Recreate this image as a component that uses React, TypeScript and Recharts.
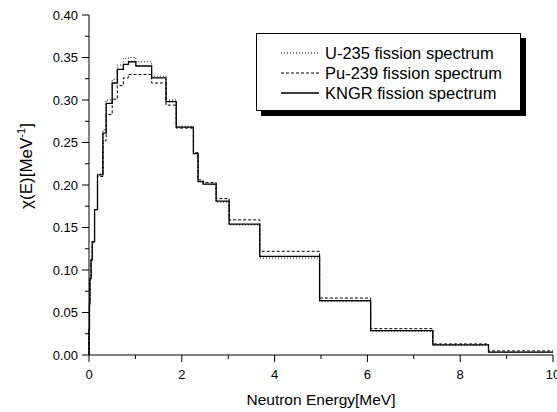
import { LineChart, Line, XAxis, YAxis, Legend } from 'recharts'

// Group boundaries (MeV) and group-wise spectrum values
const EDGES = [
  0, 0.01, 0.02, 0.045, 0.07, 0.12, 0.183, 0.3, 0.37, 0.5, 0.61, 0.74, 0.85, 1.01,
  1.35, 1.66, 1.88, 2.25, 2.35, 2.46, 2.74, 3.02, 3.68, 4.97, 6.07, 7.41, 8.61, 10,
]
const U235 = [
  0.03, 0.06, 0.09, 0.112, 0.133, 0.171, 0.213, 0.265, 0.3, 0.324, 0.341, 0.349, 0.35,
  0.345, 0.328, 0.3, 0.269, 0.237, 0.204, 0.201, 0.18, 0.153, 0.114, 0.063, 0.028,
  0.0115, 0.003,
]
const PU239 = [
  0.03, 0.06, 0.09, 0.112, 0.133, 0.171, 0.21, 0.252, 0.283, 0.301, 0.317, 0.326, 0.33,
  0.33, 0.32, 0.294, 0.267, 0.238, 0.206, 0.203, 0.184, 0.159, 0.122, 0.067, 0.031,
  0.013, 0.0048,
]
const KNGR = [
  0.03, 0.06, 0.09, 0.112, 0.133, 0.171, 0.212, 0.261, 0.296, 0.32, 0.336, 0.342, 0.345,
  0.34, 0.326, 0.298, 0.268, 0.237, 0.204, 0.201, 0.181, 0.154, 0.116, 0.064, 0.0286,
  0.0118, 0.0035,
]

const X_MAJOR = [0, 2, 4, 6, 8, 10]
const X_MINOR = [1, 3, 5, 7, 9]
const Y_MAJOR = [0, 0.05, 0.1, 0.15, 0.2, 0.25, 0.3, 0.35, 0.4]
const Y_MINOR = [0.025, 0.075, 0.125, 0.175, 0.225, 0.275, 0.325, 0.375]

const FONT = '"Liberation Sans", Arial, sans-serif'

const SERIES = [
  { key: 'u235', name: 'U-235 fission spectrum', dash: '1 2', width: 1 },
  { key: 'pu239', name: 'Pu-239 fission spectrum', dash: '3 2', width: 1 },
  { key: 'kngr', name: 'KNGR fission spectrum', dash: undefined, width: 1.3 },
]

// step data: one point per group edge, last edge repeats the last value
const last = KNGR.length - 1
const data = [
  { e: 0, u235: 0, pu239: 0, kngr: 0 },
  ...EDGES.map((e, i) => {
    const j = Math.min(i, last)
    return { e, u235: U235[j], pu239: PU239[j], kngr: KNGR[j] }
  }),
]

const near = (list: number[], v: number) => list.some(t => Math.abs(t - v) < 1e-9)

function XTick({ x, y, payload }: any) {
  const major = near(X_MAJOR, payload.value)
  return (
    <g>
      <line x1={x} x2={x} y1={y} y2={y + (major ? 7 : 4)} stroke="#000" />
      {major && (
        <text x={x} y={y + 24} textAnchor="middle" fontSize={13} fontFamily={FONT} fill="#000">
          {payload.value}
        </text>
      )}
    </g>
  )
}

function YTick({ x, y, payload }: any) {
  const major = near(Y_MAJOR, payload.value)
  return (
    <g>
      <line x1={x - (major ? 7 : 4)} x2={x} y1={y} y2={y} stroke="#000" />
      {major && (
        <text x={x - 11} y={y + 4.5} textAnchor="end" fontSize={13} fontFamily={FONT} fill="#000">
          {payload.value.toFixed(2)}
        </text>
      )}
    </g>
  )
}

function XTitle() {
  return (
    <text x={321} y={405} textAnchor="middle" fontSize={15.5} fontFamily={FONT} fill="#000">
      Neutron Energy[MeV]
    </text>
  )
}

function YTitle() {
  return (
    <text
      transform="translate(32,166) rotate(-90)"
      textAnchor="middle"
      fontSize={17}
      fontFamily={FONT}
      fill="#000"
    >
      χ(E)[MeV
      <tspan dy={-7} fontSize={11}>-1</tspan>
      <tspan dy={7}>]</tspan>
    </text>
  )
}

function LegendBox() {
  return (
    <div
      style={{
        width: 265,
        height: 78,
        border: '1px solid #000',
        background: '#fff',
        boxShadow: '5px 5px 0 #000',
        fontFamily: FONT,
        fontSize: 16.5,
        paddingTop: 9,
        boxSizing: 'border-box',
      }}
    >
      {SERIES.map(s => (
        <div key={s.key} style={{ display: 'flex', alignItems: 'center', height: 20 }}>
          <svg width={68} height={20}>
            <line x1={24} x2={62} y1={10} y2={10} stroke="#000" strokeWidth={s.width} strokeDasharray={s.dash} />
          </svg>
          <span>{s.name}</span>
        </div>
      ))}
    </div>
  )
}

export default function App() {
  return (
    <div style={{ position: 'absolute', left: 0, top: 0, width: 557, height: 412, background: '#fff' }}>
      <LineChart width={557} height={412} data={data} margin={{ top: 15, right: 4, bottom: 0, left: 0 }}>
        <XAxis
          dataKey="e"
          type="number"
          domain={[0, 10]}
          ticks={[...X_MAJOR, ...X_MINOR].sort((a, b) => a - b)}
          interval={0}
          height={57}
          tickSize={0}
          tickMargin={0}
          tickLine={false}
          tick={<XTick />}
          axisLine={{ stroke: '#000' }}
          label={<XTitle />}
        />
        <XAxis xAxisId="top" orientation="top" type="number" domain={[0, 10]} height={0} tick={false} tickLine={false} axisLine={{ stroke: '#000' }} />
        <YAxis
          type="number"
          domain={[0, 0.4]}
          ticks={[...Y_MAJOR, ...Y_MINOR].sort((a, b) => a - b)}
          interval={0}
          width={89}
          tickSize={0}
          tickMargin={0}
          tickLine={false}
          tick={<YTick />}
          axisLine={{ stroke: '#000' }}
          label={<YTitle />}
        />
        <YAxis yAxisId="right" orientation="right" domain={[0, 0.4]} width={0} tick={false} tickLine={false} axisLine={{ stroke: '#000' }} />
        {SERIES.map(s => (
          <Line
            key={s.key}
            type="stepAfter"
            dataKey={s.key}
            name={s.name}
            stroke="#000"
            strokeWidth={s.width}
            strokeDasharray={s.dash}
            dot={false}
            activeDot={false}
            isAnimationActive={false}
          />
        ))}
        <Legend
          layout="vertical"
          align="center"
          verticalAlign="middle"
          content={<LegendBox />}
          wrapperStyle={{ position: 'absolute', left: 256, top: 33, width: 'auto', height: 'auto' }}
        />
      </LineChart>
    </div>
  )
}
